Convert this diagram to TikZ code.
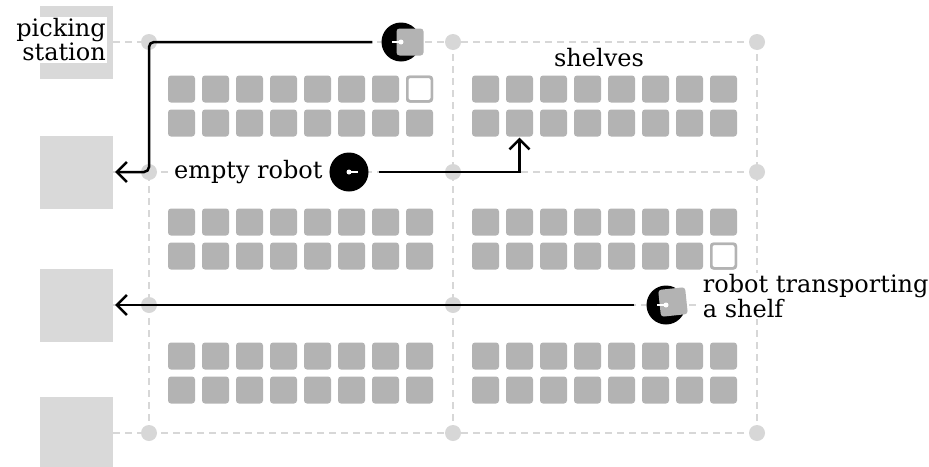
\documentclass[tikz,border=0pt]{standalone}
\usepackage{fontspec}
\setmainfont{DejaVu Serif}
\usetikzlibrary{positioning,arrows.meta}
\definecolor{gridgray}{RGB}{215,215,215}
\definecolor{shelfgray}{RGB}{179,179,179}
\definecolor{stationgray}{RGB}{217,217,217}
\newcommand{\shelfdist}{34}

\begin{document}
\begin{tikzpicture}[
x=1pt, y=-1pt,
gridline/.style={draw=gridgray, line width=2.5pt, dash pattern=on 7pt off 5pt}, % aisles
station/.style={rectangle, fill=stationgray, minimum size=73pt, inner sep=0}, % picking stations
shelf/.style={rectangle, fill=shelfgray, rounded corners=3pt, minimum size=27pt, inner sep=0}, % full shelf
gapshelf/.style={shelf, fill=white, draw=shelfgray, line width=2.5pt, minimum size=24.5pt}, % empty place
robot/.style={circle, fill=black, minimum size=39pt, inner sep=0}, % robot body
load/.style={shelf, minimum size=27pt}, % shelf on a robot
route/.style={draw, line width=2.5pt, -{Straight Barb[length=10pt,width=20pt]}}, % robot moves
txt/.style={inner sep=0, font=\fontsize{24}{20}\selectfont}, % texts
halo/.style={txt, fill=white, inner sep=1.5pt} % texts over lines
]
\useasboundingbox (0,0) rectangle (929,466);

% grid points
\foreach \x [count=\i from 0] in {149,453,757}
  \foreach \y [count=\j from 0] in {42,172,305,433}
    \coordinate (g\i\j) at (\x,\y);

\foreach \y [count=\k from 0] in {42,172,305,433}
  \node[station] (st\k) at (76.5,\y) {};

\foreach \j in {0,...,3}
  \draw[gridline] (st\j.east) -- (g2\j);
\foreach \i in {0,1,2}
  \draw[gridline] (g\i0) -- (g\i3);
\foreach \i in {0,1,2}
  \foreach \j in {0,...,3}
    \fill[gridgray] (g\i\j) circle (8);

% shelves
\foreach \bx [count=\i] in {181.5,485.5}
  \foreach \by [count=\j] in {89,222,356}
    \foreach \r in {0,1}
      \foreach \c in {0,...,7}
        \node[shelf] (s\i\j-\r\c) at (\bx+\shelfdist*\c, \by+\shelfdist*\r) {};
\node[gapshelf] (gap1) at (s11-07) {};
\node[gapshelf] (gap2) at (s22-17) {};

% robots
\node[robot] (r1) at (401,42) {};
\node[load] (r1load) at (410,42) {};
\fill[white] (r1) circle (2.5);
\draw[white, line width=1.5pt] (r1.center) -- ++(-9,0);

\node[robot] (r2) at (349,172) {};
\fill[white] (r2) circle (2.5);
\draw[white, line width=1.5pt] (r2.center) -- ++(9,0);

\node[robot] (r3) at (666,305) {};
\node[load, rotate=6] (r3load) at (673,302) {};
\fill[white] (r3) circle (2.5);
\draw[white, line width=1.5pt] (r3.center) -- ++(-9,0);

% routes
\draw[route, rounded corners=5pt, shorten <=9pt, shorten >=2pt] (r1.west) -- (g00) |- (st1.east);
\draw[route, shorten <=10pt, shorten >=1pt] (r2.east) -| (s21-11.south);
\draw[route, shorten <=12pt, shorten >=2pt] (r3.west) -- (st2.east);

% texts
\node[halo, align=right, anchor=east] (picklbl) at (107.5,40) {picking\\station};
\node[halo, left=5pt of r2] (emptylbl) {empty robot};
\node[txt] (shelflbl) at (599,58) {shelves};
\node[halo, align=left, right=15.5pt of r3, yshift=9pt] (carrylbl) {robot transporting\\a shelf};

\end{tikzpicture}
\end{document}
